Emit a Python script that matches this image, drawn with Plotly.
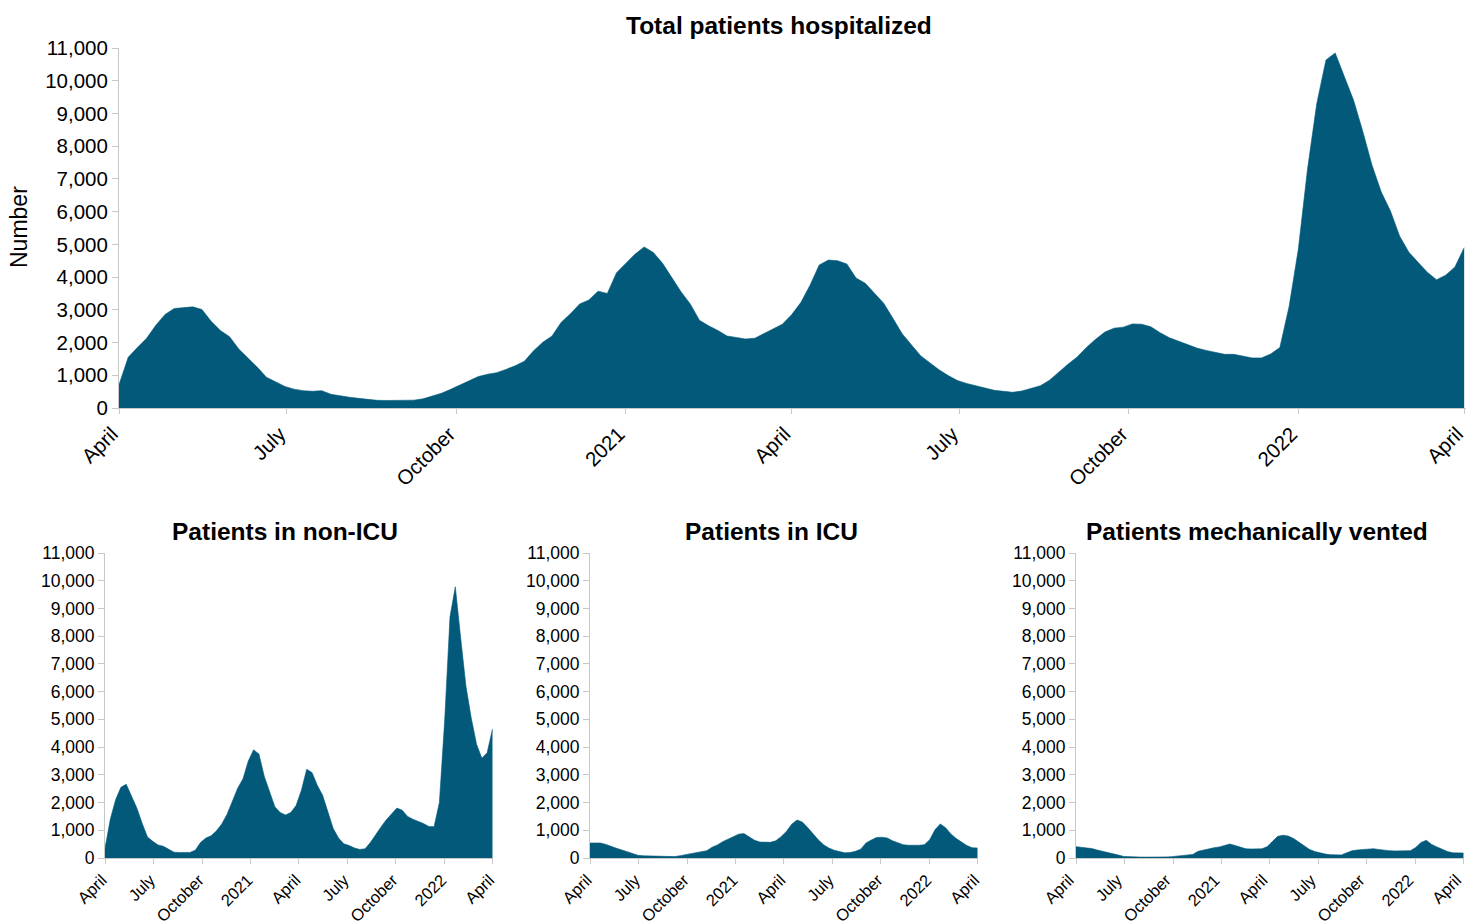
import pandas as pd
import plotly.graph_objects as go

# ---------------- data ----------------
start_date = "2020-04-01"

# Total patients hospitalized, one reading every 5 days from 2020-04-01 to 2022-04-01
total_hosp = [
    710, 1550, 1850, 2130, 2530, 2860, 3040, 3070, 3090, 3010,
    2650, 2370, 2180, 1800, 1540, 1250, 940, 810, 660, 575,
    530, 510, 530, 420, 370, 330, 295, 265, 235, 230,
    240, 235, 240, 280, 360, 450, 570, 700, 840, 960,
    1030, 1080, 1180, 1290, 1430, 1750, 2010, 2200, 2620, 2880,
    3180, 3300, 3570, 3500, 4130, 4400, 4700, 4920, 4750, 4420,
    3990, 3550, 3180, 2680, 2510, 2370, 2200, 2150, 2110, 2130,
    2270, 2400, 2560, 2850, 3220, 3750, 4370, 4520, 4500, 4400,
    3970, 3810, 3520, 3200, 2740, 2270, 1930, 1600, 1380, 1170,
    990, 840, 750, 680, 610, 540, 510, 480, 520, 600,
    680, 850, 1110, 1340, 1560, 1850, 2100, 2320, 2440, 2470,
    2570, 2560, 2480, 2300, 2150, 2040, 1950, 1830, 1760, 1710,
    1640, 1640, 1580, 1530, 1530, 1650, 1850, 3100, 4850, 7300,
    9300, 10630, 10850, 10100, 9400, 8450, 7420, 6600, 6020, 5250,
    4760, 4450, 4150, 3920, 4060, 4310, 4900,
]

# Small panels, one reading every 10 days from 2020-04-01 to 2022-04-01
non_icu = [
    350, 1400, 2100, 2550, 2660, 2250, 1800, 1250, 760, 600,
    470, 420, 300, 210, 200, 190, 200, 280, 560, 720,
    800, 980, 1230, 1580, 2030, 2520, 2860, 3500, 3900, 3750,
    2950, 2400, 1850, 1640, 1550, 1640, 1890, 2440, 3200, 3080,
    2620, 2260, 1620, 1060, 720, 510, 450, 360, 310, 330,
    560, 860, 1120, 1380, 1590, 1800, 1720, 1500, 1400, 1330,
    1240, 1140, 1130, 2000, 4980, 8700, 9780, 7950, 6200, 5050,
    4100, 3600, 3800, 4650,
]
icu = [
    540, 545, 540, 490, 410, 350, 290, 230, 165, 100,
    80, 75, 72, 68, 62, 55, 50, 85, 125, 165,
    200, 240, 265, 390, 470, 590, 690, 780, 860, 880,
    760, 640, 575, 560, 565, 620, 770, 960, 1220, 1370,
    1300, 1100, 860, 660, 480, 360, 280, 230, 185, 195,
    240, 320, 540, 650, 740, 750, 720, 620, 540, 480,
    460, 455, 460, 480, 660, 1020, 1230, 1090, 870, 700,
    560, 450, 370, 360,
]
vented = [
    410, 395, 370, 340, 285, 245, 205, 160, 105, 55,
    40, 38, 35, 32, 28, 25, 28, 40, 48, 70,
    85, 105, 130, 240, 290, 340, 370, 400, 460, 505,
    450, 380, 330, 325, 325, 330, 410, 600, 780, 820,
    790, 700, 560, 430, 310, 230, 180, 140, 120, 115,
    110, 190, 260, 290, 310, 320, 335, 310, 280, 265,
    255, 250, 255, 265, 380, 560, 640, 490, 400, 300,
    230, 185, 180, 180,
]

tick_dates = ["2020-04-01", "2020-07-01", "2020-10-01", "2021-01-01", "2021-04-01",
              "2021-07-01", "2021-10-01", "2022-01-01", "2022-04-01"]
tick_labels = ["April", "July", "October", "2021", "April", "July", "October", "2022", "April"]
y_ticks = [0, 1000, 2000, 3000, 4000, 5000, 6000, 7000, 8000, 9000, 10000, 11000]

titles = ["Total patients hospitalized", "Patients in non-ICU", "Patients in ICU",
          "Patients mechanically vented"]

dates_main = pd.date_range(start_date, periods=len(total_hosp), freq="5D")
dates_small = pd.date_range(start_date, periods=len(non_icu), freq="10D")

# ---------------- figure ----------------
COLOR = "#02597A"
FONT = "Liberation Sans, Arial, Helvetica, sans-serif"
AXIS_GRAY = "#c8c8c8"

fig = go.Figure()

series = [(dates_main, total_hosp, "x", "y"),
          (dates_small, non_icu, "x2", "y2"),
          (dates_small, icu, "x3", "y3"),
          (dates_small, vented, "x4", "y4")]
for (xs, ys, xa, ya), name in zip(series, titles):
    fig.add_trace(go.Scatter(
        x=xs, y=ys, xaxis=xa, yaxis=ya, name=name,
        mode="lines", fill="tozeroy", fillcolor=COLOR,
        line=dict(color=COLOR, width=0.6, shape="linear"),
        hovertemplate="%{x|%b %d, %Y}: %{y:,}<extra></extra>",
        showlegend=False,
    ))

x_range = ["2020-04-01", "2022-04-02"]


def xaxis_style(domain, size, anchor, shift):
    return dict(domain=domain, anchor=anchor, range=x_range, type="date",
                tickmode="array", tickvals=tick_dates, ticktext=tick_labels,
                tickangle=-45, tickfont=dict(size=size, color="#000", family=FONT),
                showline=True, linecolor=AXIS_GRAY, linewidth=1,
                ticks="outside", tickcolor=AXIS_GRAY, ticklen=5,
                ticklabeloverflow="allow", ticklabelshift=shift,
                showgrid=False, zeroline=False, automargin=False)


def yaxis_style(domain, size, anchor):
    return dict(domain=domain, anchor=anchor, range=[0, 11000],
                tickmode="array", tickvals=y_ticks, tickformat=",",
                tickfont=dict(size=size, color="#000", family=FONT),
                showline=True, linecolor=AXIS_GRAY, linewidth=1,
                ticks="outside", tickcolor=AXIS_GRAY, ticklen=6,
                ticklabeloverflow="allow",
                showgrid=False, zeroline=False, automargin=False)


# page layout in pixels (the page body margin is removed below)
W, H = 1466, 924
L, T, B_px = 105, 48, 858
B = H - B_px
pw = W - L
ph = B_px - T


def px_x(x):
    return (x - L) / pw


def px_y(y):
    return (B_px - y) / ph


fig.update_layout(
    width=W, height=H, autosize=False,
    margin=dict(l=L, r=0, t=T, b=B, autoexpand=False),
    paper_bgcolor="white", plot_bgcolor="white",
    font=dict(family=FONT, color="#000"),
    xaxis=xaxis_style([px_x(119), px_x(1466)], 20.5, "y", -7),
    yaxis=yaxis_style([px_y(408), px_y(48)], 20.5, "x"),
    xaxis2=xaxis_style([px_x(105), px_x(493)], 16.5, "y2", -3),
    yaxis2=yaxis_style([px_y(858), px_y(553)], 17.5, "x2"),
    xaxis3=xaxis_style([px_x(590), px_x(978)], 16.5, "y3", -3),
    yaxis3=yaxis_style([px_y(858), px_y(553)], 17.5, "x3"),
    xaxis4=xaxis_style([px_x(1076), px_x(1464)], 16.5, "y4", -7),
    yaxis4=yaxis_style([px_y(858), px_y(553)], 17.5, "x4"),
    hovermode="closest",
)

title_pos = [(779, 26), (285, 531), (771, 531), (1257, 531)]
for text, (tx, ty) in zip(titles, title_pos):
    fig.add_annotation(text="<b>%s</b>" % text, xref="paper", yref="paper",
                       x=px_x(tx), y=px_y(ty), xanchor="center", yanchor="middle",
                       showarrow=False, font=dict(size=24.5, family=FONT, color="#000"))

fig.add_annotation(text="Number", xref="paper", yref="paper",
                   x=px_x(19), y=px_y(227), xanchor="center", yanchor="middle",
                   textangle=-90, showarrow=False,
                   font=dict(size=23, family=FONT, color="#000"))

fig.write_html("out.html",
               config={"displayModeBar": False},
               post_script="document.body.style.margin='0';"
                           "document.body.style.overflow='hidden';")
